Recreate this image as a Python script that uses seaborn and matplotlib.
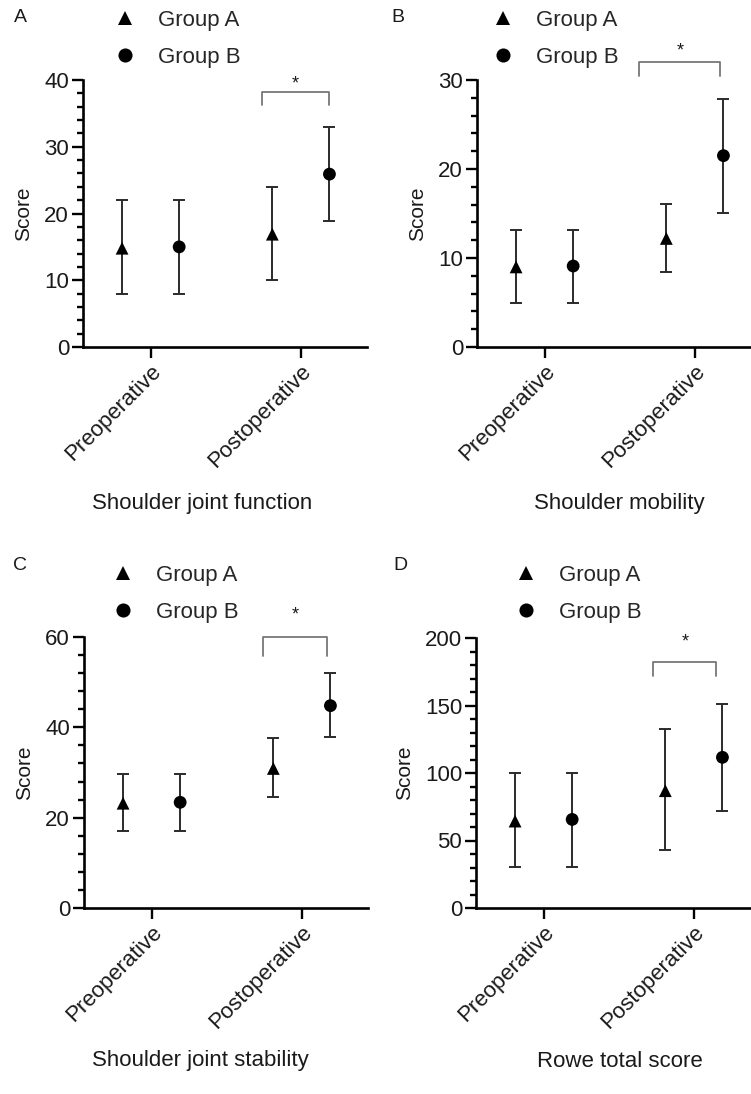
import numpy as np
import pandas as pd
import matplotlib.pyplot as plt
import seaborn as sns
from matplotlib.ticker import MultipleLocator

# ---- data ----
phases = ['Preoperative', 'Postoperative']
groups = ['Group A', 'Group B']
panel_letters = ['A', 'B', 'C', 'D']
outcomes = ['Shoulder joint function', 'Shoulder mobility',
            'Shoulder joint stability', 'Rowe total score']

# one row per outcome, [pre, post]
group_a_mean = [[14.8, 16.9], [9.0, 12.2], [23.2, 30.9], [64.4, 86.9]]
group_a_low = [[7.9, 10.1], [4.9, 8.4], [17.0, 24.5], [30.4, 43.3]]
group_a_high = [[22.0, 24.0], [13.2, 16.1], [29.7, 37.7], [100.0, 132.7]]
group_b_mean = [[15.0, 25.9], [9.1, 21.5], [23.4, 44.8], [65.6, 111.6]]
group_b_low = [[7.9, 18.9], [4.9, 15.1], [17.0, 37.8], [30.4, 71.8]]
group_b_high = [[22.0, 33.0], [13.2, 27.9], [29.7, 52.0], [100.0, 151.2]]

y_max = [40, 30, 60, 200]
y_step = [10, 10, 20, 50]
# significance bracket: (bottom, top, star) in data units
bracket_y = [(36.2, 38.2, 40.0), (30.45, 32.0, 33.7), (55.7, 60.0, 65.7), (172, 182, 200)]
bracket_x = [(0.74, 1.19), (0.63, 1.17), (0.74, 1.17), (0.73, 1.15)]

# ---- layout (pixels of a 751x1094 canvas) ----
W, H = 751, 1094
axes_px = [(83, 80, 284, 267), (477, 80, 284, 267), (84, 637, 284, 271), (476, 638, 284, 270)]
xlabel_pos = [(0.42, -0.585), (0.50, -0.585), (0.41, -0.562), (0.507, -0.57)]
legend_px = [(114, 10), (492, 10), (112, 565), (515, 565)]
letter_px = [(20, 17), (398, 17), (20, 565), (400, 565)]

sns.set_theme(style='ticks')
plt.rcParams['font.family'] = ['Liberation Sans', 'DejaVu Sans']
ink = '#1a1a1a'

fig = plt.figure(figsize=(W / 100, H / 100), dpi=100)
offset = {'Group A': -0.19, 'Group B': 0.19}

for i in range(4):
    l, t, w, h = axes_px[i]
    ax = fig.add_axes([l / W, 1 - (t + h) / H, w / W, h / H])

    df = pd.DataFrame({
        'phase': phases * 2,
        'group': [groups[0]] * 2 + [groups[1]] * 2,
        'mean': group_a_mean[i] + group_b_mean[i],
        'low': group_a_low[i] + group_b_low[i],
        'high': group_a_high[i] + group_b_high[i],
    })
    df['x'] = df['phase'].map({p: k for k, p in enumerate(phases)}) + df['group'].map(offset)

    ax.errorbar(df['x'], df['mean'], yerr=[df['mean'] - df['low'], df['high'] - df['mean']],
                fmt='none', ecolor='#2b2b2b', elinewidth=1.4, capsize=4.5, capthick=1.4, zorder=2)
    sns.scatterplot(data=df, x='x', y='mean', style='group',
                    markers={'Group A': '^', 'Group B': 'o'}, color='black',
                    s=85, linewidth=0, ax=ax, zorder=3, legend=True)

    lx, ly = legend_px[i]
    sns.move_legend(ax, loc='upper left', bbox_to_anchor=(lx / W, 1 - ly / H),
                    bbox_transform=fig.transFigure, frameon=False, title=None,
                    fontsize=16, handlelength=1.0, handletextpad=1.0,
                    labelspacing=0.72, borderpad=0, borderaxespad=0, markerscale=1.1)

    # significance bracket
    b0, b1, st = bracket_y[i]
    x0, x1 = bracket_x[i]
    ax.plot([x0, x0, x1, x1], [b0, b1, b1, b0], color='#777777', lw=1.3, clip_on=False, zorder=1)
    ax.annotate('*', xy=((x0 + x1) / 2, st), xytext=(0, -3), textcoords='offset points',
                ha='center', va='center', fontsize=13, color=ink, annotation_clip=False)

    ax.set_xlim(-0.45, 1.44)
    ax.set_ylim(0, y_max[i])
    ax.set_xticks(range(len(phases)))
    ax.set_xticklabels(phases, rotation=45, ha='right', rotation_mode='anchor')
    ax.yaxis.set_major_locator(MultipleLocator(y_step[i]))
    ax.yaxis.set_minor_locator(MultipleLocator(y_step[i] / 5))
    ax.tick_params(axis='both', which='major', length=8, width=1.7, labelsize=16,
                   colors='black', labelcolor=ink, pad=2)
    ax.tick_params(axis='y', which='minor', length=4.5, width=1.7, colors='black')
    sns.despine(ax=ax)
    for s in ['left', 'bottom']:
        ax.spines[s].set_linewidth(1.9)
        ax.spines[s].set_color('black')

    ax.set_ylabel('Score', fontsize=15, color=ink, labelpad=8)
    ax.set_xlabel(outcomes[i], fontsize=16, color=ink)
    ax.xaxis.set_label_coords(*xlabel_pos[i])
    ax.xaxis.label.set_va('center')

    px, py = letter_px[i]
    fig.text(px / W, 1 - py / H, panel_letters[i], ha='center', va='center', fontsize=14, color=ink)

fig.savefig('out.png', dpi=100)
